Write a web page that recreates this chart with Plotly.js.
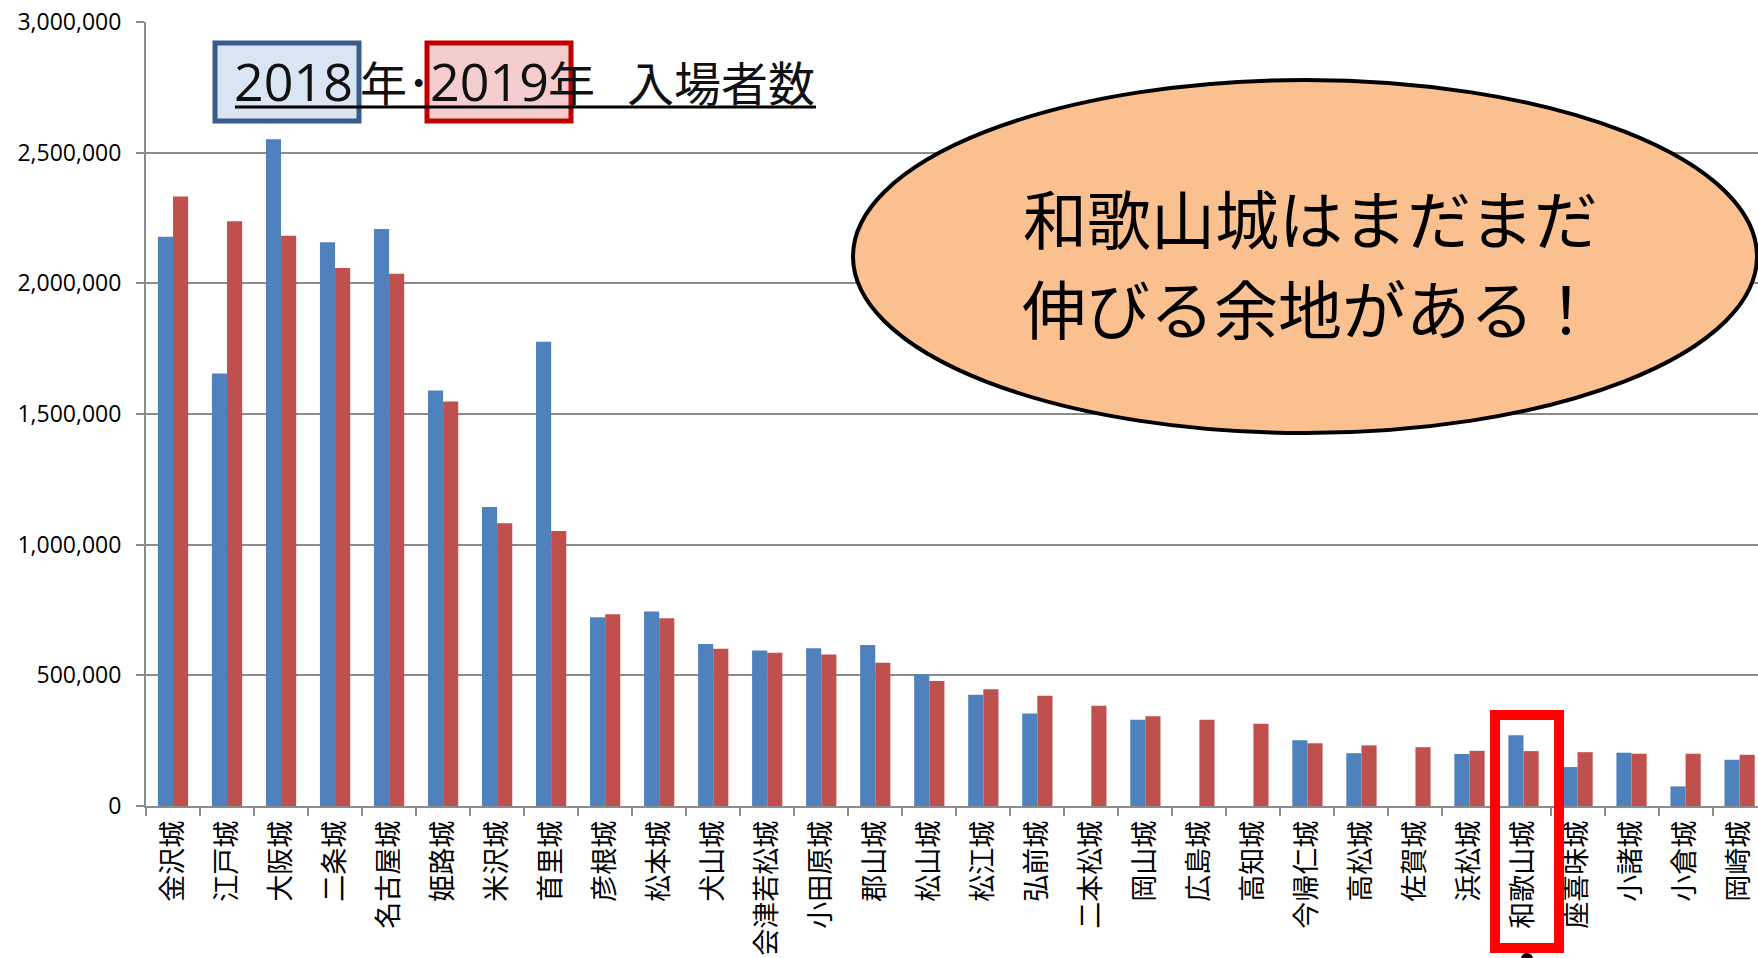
<!DOCTYPE html>
<html>
<head>
<meta charset="utf-8">
<script src="https://cdn.plot.ly/plotly-3.0.1.min.js"></script>
<style>
html,body{margin:0;padding:0;background:#fff;overflow:hidden;}
#chart{width:1758px;height:958px;}
</style>
</head>
<body>
<div id="chart"></div>
<script>
const categories = ["金沢城","江戸城","大阪城","二条城","名古屋城","姫路城","米沢城","首里城","彦根城","松本城","犬山城","会津若松城","小田原城","郡山城","松山城","松江城","弘前城","二本松城","岡山城","広島城","高知城","今帰仁城","高松城","佐賀城","浜松城","和歌山城","座喜味城","小諸城","小倉城","岡崎城"];
const visitors2018 = [2178000,1655000,2551000,2157000,2208000,1590000,1144000,1776000,722000,744000,620000,595000,604000,616000,504000,426000,354000,null,330000,null,null,252000,202000,null,199000,271000,149000,204000,75000,177000];
const visitors2019 = [2332000,2238000,2182000,2059000,2037000,1548000,1082000,1052000,734000,718000,602000,586000,580000,548000,478000,447000,422000,384000,343000,330000,315000,240000,232000,225000,211000,210000,206000,200000,200000,196000];
const yTickVals = [0,500000,1000000,1500000,2000000,2500000,3000000];
const yTickText = ["0","500,000","1,000,000","1,500,000","2,000,000","2,500,000","3,000,000"];
const seriesNames = ["2018年","2019年"];
const titleParts = ["2018","年･","2019","年","入場者数"];
const calloutLines = ["和歌山城はまだまだ","伸びる余地がある！"];

const W = 1758, H = 958;
const L = 146, R = 0, T = 22, B = 152;
const PW = W - L - R, PH = H - T - B;
const px = x => (x - L) / PW;
const py = y => (H - B - y) / PH;
const catPx = 54.02;
const CJK = '"Noto Sans CJK JP", "Noto Sans", sans-serif';
const LAT = '"Open Sans", "Noto Sans", sans-serif';

const traces = [
  {type:'bar', name:seriesNames[0], x:categories, y:visitors2018, marker:{color:'#4F81BD', line:{width:0}}, hoverinfo:'skip'},
  {type:'bar', name:seriesNames[1], x:categories, y:visitors2019, marker:{color:'#C0504D', line:{width:0}}, hoverinfo:'skip'}
];

const titleX = [233, 359, 429, 547, 626];
const titleFont = [LAT, CJK, LAT, CJK, CJK];
const titleSize = [52, 47, 52, 47, 47];
const annotations = titleParts.map((t,i)=>({
  xref:'paper', yref:'paper', x:px(titleX[i]), y:py(80), xanchor:'left', yanchor:'middle',
  text:t, showarrow:false, borderpad:0, font:{family:titleFont[i], size:titleSize[i], color:'#111'}
}));
const calloutY = [216, 306];
calloutLines.forEach((t,i)=>annotations.push({
  xref:'paper', yref:'paper', x:px(1310), y:py(calloutY[i]), xanchor:'center', yanchor:'middle',
  text:t, showarrow:false, borderpad:0, font:{family:CJK, size:64, color:'#000'}
}));

const shapes = [
  {type:'rect', xref:'paper', yref:'paper', x0:px(215), x1:px(359), y0:py(43), y1:py(121), line:{color:'#385D8A', width:5}, fillcolor:'rgba(205,220,240,0.75)', layer:'above'},
  {type:'rect', xref:'paper', yref:'paper', x0:px(427), x1:px(571), y0:py(43), y1:py(121), line:{color:'#C00000', width:5}, fillcolor:'rgba(240,185,185,0.7)', layer:'above'},
  {type:'line', xref:'paper', yref:'paper', x0:px(235), x1:px(816), y0:py(107), y1:py(107), line:{color:'#000', width:3}, layer:'above'},
  {type:'circle', xref:'paper', yref:'paper', x0:px(853), x1:px(1757), y0:py(80), y1:py(433), line:{color:'#000', width:4}, fillcolor:'#FAC090', layer:'above'},
  {type:'rect', xref:'paper', yref:'paper', x0:px(1495), x1:px(1559), y0:py(715), y1:py(948), line:{color:'#FF0000', width:10}, fillcolor:'rgba(0,0,0,0)', layer:'above'},
  {type:'circle', xref:'paper', yref:'paper', x0:px(1521), x1:px(1533), y0:py(953), y1:py(965), line:{color:'#000', width:0}, fillcolor:'#000', layer:'above'}
];

const layout = {
  width:W, height:H,
  margin:{l:L, r:R, t:T, b:B, pad:0},
  paper_bgcolor:'#fff', plot_bgcolor:'#fff',
  showlegend:false,
  barmode:'group', bargap:0.44, bargroupgap:0,
  font:{family:CJK, color:'#000'},
  xaxis:{
    type:'category', range:[-0.5, -0.5 + PW/catPx],
    tickson:'boundaries', ticks:'outside', ticklen:8, tickwidth:2, tickcolor:'#8C8C8C',
    showline:true, linecolor:'#8C8C8C', linewidth:2, showgrid:false,
    tickangle:-90, tickfont:{family:CJK, size:27, color:'#000'}, automargin:false,
    ticklabelstandoff:2
  },
  yaxis:{
    range:[0,3000000], tickvals:yTickVals, ticktext:yTickText,
    ticks:'outside', ticklen:8, tickwidth:2, tickcolor:'#8C8C8C',
    showline:true, linecolor:'#8C8C8C', linewidth:2,
    showgrid:true, gridcolor:'#8C8C8C', gridwidth:2, zeroline:false,
    tickfont:{family:LAT, size:23, color:'#000'}, automargin:false,
    ticklabelstandoff:10
  },
  annotations:annotations,
  shapes:shapes
};

Plotly.newPlot('chart', traces, layout, {staticPlot:true, displayModeBar:false});
</script>
</body>
</html>
